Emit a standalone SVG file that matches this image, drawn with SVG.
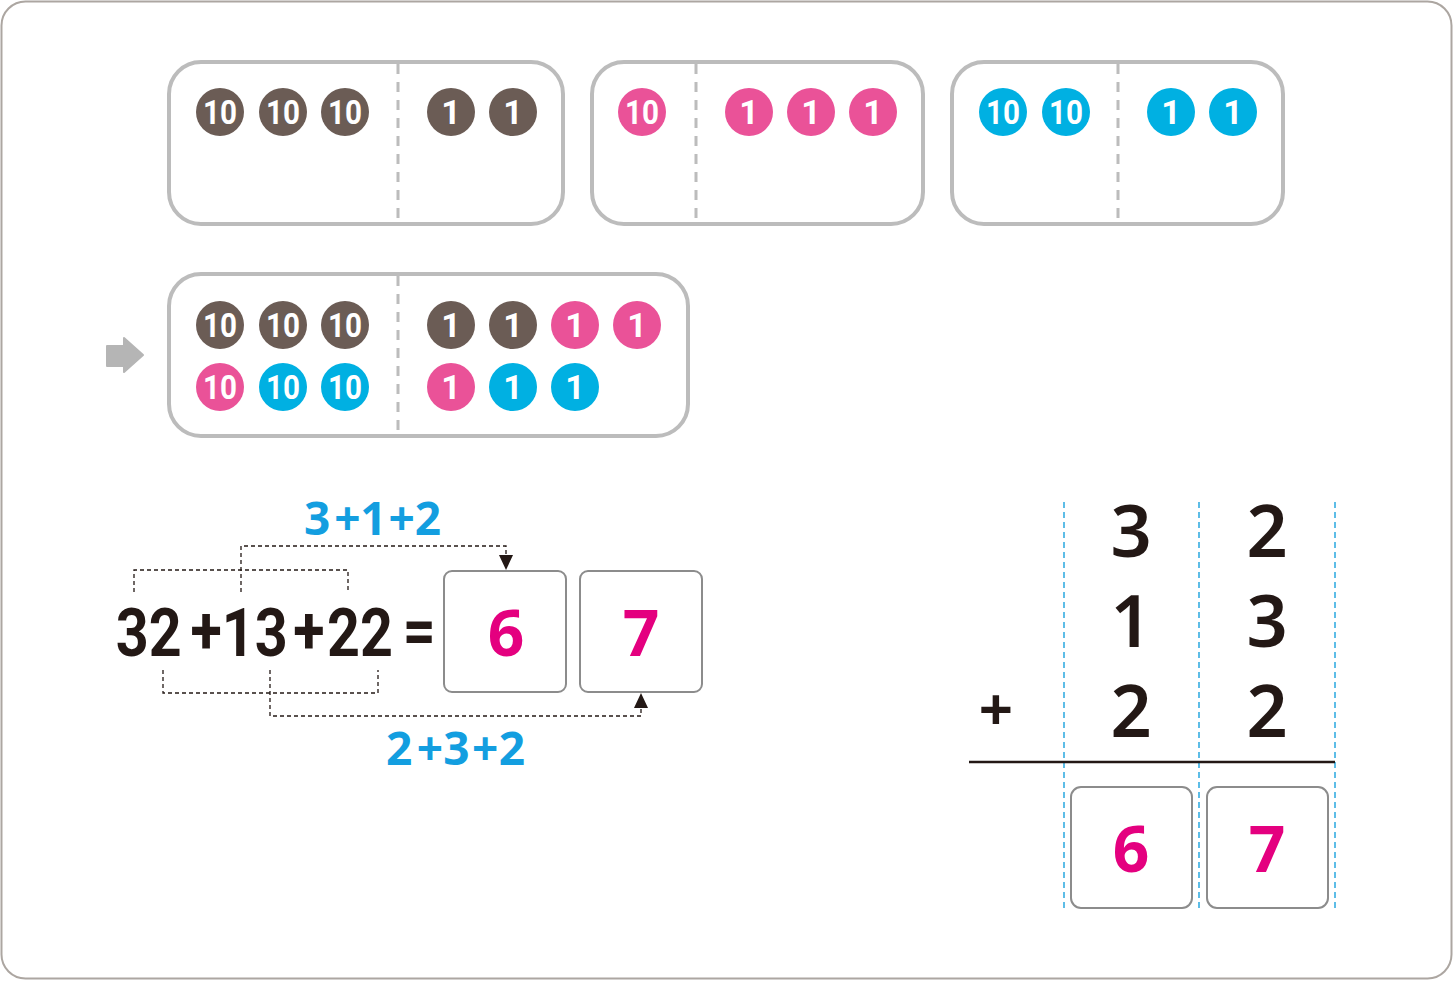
<svg xmlns="http://www.w3.org/2000/svg" width="1454" height="981" viewBox="0 0 1454 981">
<style>
.frame{fill:#fff;stroke:#bcbcbc;stroke-width:4}
.div{stroke:#bcbcbc;stroke-width:3;stroke-dasharray:10 8;fill:none}
.br{fill:#6b5c55}.pk{fill:#ea5298}.bl{fill:#00b0e2}
.ct{fill:#fff;font-family:Roboto,"Liberation Sans",sans-serif;font-weight:700;font-size:34px;text-anchor:middle}
.eq{fill:#231815;font-family:Roboto,"Liberation Sans",sans-serif;font-weight:700;font-size:66px}
.ans{fill:#e4007f;font-family:"Noto Sans","Liberation Sans",sans-serif;font-weight:700;font-size:64px;text-anchor:middle}
.hint{fill:#139ee0;font-family:"Noto Sans","Liberation Sans",sans-serif;font-weight:700;font-size:46px}
.col{fill:#231815;font-family:"Noto Sans","Liberation Sans",sans-serif;font-weight:600;font-size:72px;text-anchor:middle}
.abox{fill:#fff;stroke:#8c8c8c;stroke-width:2}
.dash{fill:none;stroke:#231815;stroke-width:1.3;stroke-dasharray:4 3}
.vdash{fill:none;stroke:#29a8e0;stroke-width:1.5;stroke-dasharray:6 4}
</style>
<defs>
<marker id="ah" markerWidth="16" markerHeight="16" viewBox="0 0 16 16" refX="15" refY="8" orient="auto" markerUnits="userSpaceOnUse">
<path d="M0,1 L15,8 L0,15 Z" fill="#231815"/>
</marker>
</defs>
<rect x="1.5" y="1.5" width="1450" height="977" rx="24" fill="#fff" stroke="#aca6a1" stroke-width="2"/>

<g id="box-a">
<rect class="frame" x="169" y="62" width="394" height="162" rx="32"/>
<line class="div" x1="398" y1="64" x2="398" y2="224"/>
<circle class="br" cx="220" cy="112" r="24"/><text class="ct" x="220" y="124" textLength="34" lengthAdjust="spacingAndGlyphs">10</text>
<circle class="br" cx="283" cy="112" r="24"/><text class="ct" x="283" y="124" textLength="34" lengthAdjust="spacingAndGlyphs">10</text>
<circle class="br" cx="345" cy="112" r="24"/><text class="ct" x="345" y="124" textLength="34" lengthAdjust="spacingAndGlyphs">10</text>
<circle class="br" cx="451" cy="112" r="24"/><text class="ct" x="451" y="124">1</text>
<circle class="br" cx="513" cy="112" r="24"/><text class="ct" x="513" y="124">1</text>
</g>

<g id="box-b">
<rect class="frame" x="592" y="62" width="331" height="162" rx="32"/>
<line class="div" x1="696" y1="64" x2="696" y2="224"/>
<circle class="pk" cx="642" cy="112" r="24"/><text class="ct" x="642" y="124" textLength="34" lengthAdjust="spacingAndGlyphs">10</text>
<circle class="pk" cx="749" cy="112" r="24"/><text class="ct" x="749" y="124">1</text>
<circle class="pk" cx="811" cy="112" r="24"/><text class="ct" x="811" y="124">1</text>
<circle class="pk" cx="873" cy="112" r="24"/><text class="ct" x="873" y="124">1</text>
</g>

<g id="box-c">
<rect class="frame" x="952" y="62" width="331" height="162" rx="32"/>
<line class="div" x1="1118" y1="64" x2="1118" y2="224"/>
<circle class="bl" cx="1003" cy="112" r="24"/><text class="ct" x="1003" y="124" textLength="34" lengthAdjust="spacingAndGlyphs">10</text>
<circle class="bl" cx="1066" cy="112" r="24"/><text class="ct" x="1066" y="124" textLength="34" lengthAdjust="spacingAndGlyphs">10</text>
<circle class="bl" cx="1171" cy="112" r="24"/><text class="ct" x="1171" y="124">1</text>
<circle class="bl" cx="1233" cy="112" r="24"/><text class="ct" x="1233" y="124">1</text>
</g>

<g id="arrow">
<path d="M107,346 L124,346 L124,338 L143,355 L124,372 L124,366 L107,366 Z" fill="#b5b5b5" stroke="#b5b5b5" stroke-width="2" stroke-linejoin="round"/>
</g>

<g id="box-sum">
<rect class="frame" x="169" y="274" width="519" height="162" rx="32"/>
<line class="div" x1="398" y1="276" x2="398" y2="436"/>
<circle class="br" cx="220" cy="325" r="24"/><text class="ct" x="220" y="337" textLength="34" lengthAdjust="spacingAndGlyphs">10</text>
<circle class="br" cx="283" cy="325" r="24"/><text class="ct" x="283" y="337" textLength="34" lengthAdjust="spacingAndGlyphs">10</text>
<circle class="br" cx="345" cy="325" r="24"/><text class="ct" x="345" y="337" textLength="34" lengthAdjust="spacingAndGlyphs">10</text>
<circle class="br" cx="451" cy="325" r="24"/><text class="ct" x="451" y="337">1</text>
<circle class="br" cx="513" cy="325" r="24"/><text class="ct" x="513" y="337">1</text>
<circle class="pk" cx="575" cy="325" r="24"/><text class="ct" x="575" y="337">1</text>
<circle class="pk" cx="637" cy="325" r="24"/><text class="ct" x="637" y="337">1</text>
<circle class="pk" cx="220" cy="387" r="24"/><text class="ct" x="220" y="399" textLength="34" lengthAdjust="spacingAndGlyphs">10</text>
<circle class="bl" cx="283" cy="387" r="24"/><text class="ct" x="283" y="399" textLength="34" lengthAdjust="spacingAndGlyphs">10</text>
<circle class="bl" cx="345" cy="387" r="24"/><text class="ct" x="345" y="399" textLength="34" lengthAdjust="spacingAndGlyphs">10</text>
<circle class="pk" cx="451" cy="387" r="24"/><text class="ct" x="451" y="399">1</text>
<circle class="bl" cx="513" cy="387" r="24"/><text class="ct" x="513" y="399">1</text>
<circle class="bl" cx="575" cy="387" r="24"/><text class="ct" x="575" y="399">1</text>
</g>

<g id="equation">
<text class="eq" transform="scale(0.87,1)" y="656"><tspan x="133">32</tspan><tspan x="219" y="653">+</tspan><tspan x="255" y="656">13</tspan><tspan x="337" y="653">+</tspan><tspan x="376" y="656">22</tspan><tspan x="463" y="653">=</tspan></text>
</g>

<g id="eq-box-tens">
<rect class="abox" x="444" y="571" width="122" height="121" rx="8"/>
<text class="ans" x="506" y="656">6</text>
</g>
<g id="eq-box-ones">
<rect class="abox" x="580" y="571" width="122" height="121" rx="8"/>
<text class="ans" x="641" y="656">7</text>
</g>

<g id="hint-tens"><text class="hint" x="304" y="535" textLength="137" lengthAdjust="spacing">3<tspan dx="4">+</tspan>1<tspan dx="2">+</tspan>2</text></g>
<g id="hint-ones"><text class="hint" x="386" y="765" textLength="139" lengthAdjust="spacing">2<tspan dx="4">+</tspan>3<tspan dx="2">+</tspan>2</text></g>

<g id="connectors">
<path class="dash" d="M134,592 V570 H348 V592"/>
<path class="dash" d="M241,592 V546 H506 V570" marker-end="url(#ah)"/>
<path class="dash" d="M163,670 V693 H378 V670"/>
<path class="dash" d="M270,670 V716 H641 V693" marker-end="url(#ah)"/>
</g>

<g id="column-grid">
<line class="vdash" x1="1064" y1="502" x2="1064" y2="910"/>
<line class="vdash" x1="1199" y1="502" x2="1199" y2="910"/>
<line class="vdash" x1="1335" y1="502" x2="1335" y2="910"/>
<line x1="969" y1="762" x2="1335" y2="762" stroke="#231815" stroke-width="2.5"/>
</g>

<g id="column-digits">
<text class="col" x="1131" y="557">3</text>
<text class="col" x="1267" y="557">2</text>
<text class="col" x="1131" y="647">1</text>
<text class="col" x="1267" y="647">3</text>
<text class="col" x="1131" y="737">2</text>
<text class="col" x="1267" y="737">2</text>
<text class="col" x="996" y="731" style="font-size:60px;font-weight:700">+</text>
</g>

<g id="col-box-tens">
<rect class="abox" x="1071" y="787" width="121" height="121" rx="10"/>
<text class="ans" x="1131" y="872">6</text>
</g>
<g id="col-box-ones">
<rect class="abox" x="1207" y="787" width="121" height="121" rx="10"/>
<text class="ans" x="1267" y="872">7</text>
</g>
</svg>
